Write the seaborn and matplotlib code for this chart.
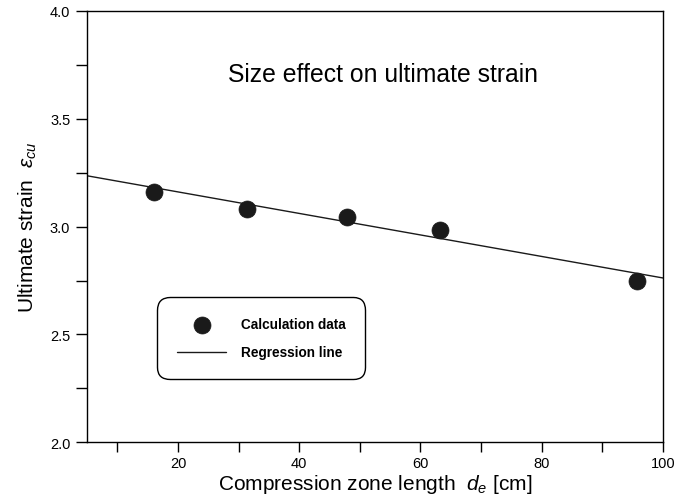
import numpy as np
import pandas as pd
import matplotlib
matplotlib.use("Agg")
import matplotlib.pyplot as plt
import seaborn as sns

# ---- data ----
length_cm = [16.0, 31.4, 47.8, 63.2, 95.7]
ultimate_strain = [3.162, 3.082, 3.044, 2.984, 2.748]
reg_x = [5.0, 100.0]
reg_y = [3.236, 2.762]
x_major_ticks = [20, 40, 60, 80, 100]
x_minor_ticks = [10, 30, 50, 70, 90]
y_major_ticks = [2.0, 2.5, 3.0, 3.5, 4.0]
y_minor_ticks = [2.25, 2.75, 3.25, 3.75]

sns.set_style("white")
plt.rcParams["font.family"] = ["Liberation Sans", "DejaVu Sans"]
plt.rcParams["mathtext.fontset"] = "custom"
plt.rcParams["mathtext.rm"] = "Liberation Sans"
plt.rcParams["mathtext.it"] = "Liberation Sans:italic"
plt.rcParams["text.color"] = "black"
plt.rcParams["axes.labelcolor"] = "black"
plt.rcParams["xtick.color"] = "black"
plt.rcParams["ytick.color"] = "black"

fig = plt.figure(figsize=(6.76, 5.02), dpi=100)
ax = fig.add_axes([0.1287, 0.1169, 0.8521, 0.8592])

pts = pd.DataFrame({"x": length_cm, "y": ultimate_strain})
reg = pd.DataFrame({"x": reg_x, "y": reg_y})

sns.lineplot(data=reg, x="x", y="y", ax=ax, color="#1a1a1a", linewidth=1.0,
             label="Regression line", zorder=2)
sns.scatterplot(data=pts, x="x", y="y", ax=ax, color="#1a1a1a", s=150,
                edgecolor="#1a1a1a", linewidth=0.5, label="Calculation data", zorder=3)

ax.set_xlim(5, 100)
ax.set_ylim(2.0, 4.0)
ax.set_xticks(x_major_ticks)
ax.set_xticks(x_minor_ticks, minor=True)
ax.set_yticks(y_major_ticks)
ax.set_yticks(y_minor_ticks, minor=True)
ax.set_xticklabels([f"{v:d}" for v in x_major_ticks])
ax.set_yticklabels([f"{v:.1f}" for v in y_major_ticks])

ax.tick_params(axis="x", which="both", direction="out", length=7, width=1,
               color="black", labelsize=10.5, pad=3, bottom=True)
ax.tick_params(axis="y", which="both", direction="out", length=8, width=1,
               color="black", labelsize=10.5, pad=4, left=True)
for s in ax.spines.values():
    s.set_color("black")
    s.set_linewidth(1.0)

ax.set_xlabel(r"Compression zone length  $d_e$ [cm]", fontsize=15, labelpad=1)
ax.set_ylabel(r"Ultimate strain  $\varepsilon_{cu}$", fontsize=15, labelpad=8)

ax.text(0.514, 0.854, "Size effect on ultimate strain", transform=ax.transAxes,
        ha="center", va="center", fontsize=17.8)

handles, labels = ax.get_legend_handles_labels()
order = [labels.index("Calculation data"), labels.index("Regression line")]
leg = ax.legend([handles[i] for i in order], [labels[i] for i in order],
                loc="upper left", bbox_to_anchor=(0.122, 0.336),
                borderaxespad=0, fancybox=True, frameon=True,
                prop={"weight": "bold", "size": 9.8},
                borderpad=1.45, labelspacing=1.05, handlelength=3.6,
                handletextpad=1.1, markerscale=1.0)
frame = leg.get_frame()
frame.set_edgecolor("black")
frame.set_linewidth(1.0)
frame.set_alpha(1)
frame.set_boxstyle("round", pad=0, rounding_size=0.9)

fig.savefig("out.png", dpi=100)
